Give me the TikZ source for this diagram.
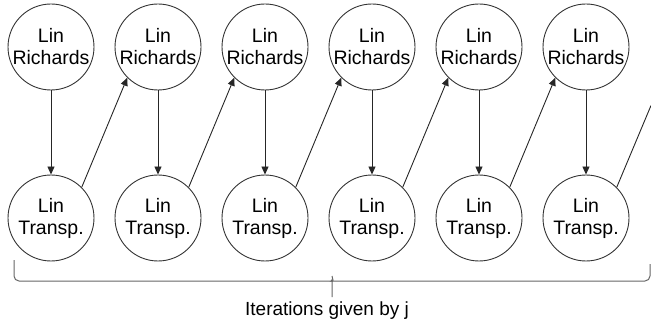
\documentclass[tikz,border=0pt]{standalone}
\usepackage{fontspec}
\setmainfont{Liberation Sans}
\usetikzlibrary{arrows.meta}
\begin{document}
\begin{tikzpicture}[x=1pt,y=-1pt,
  stage/.style={draw=black!80,line width=0.9pt,circle,minimum size=86pt,inner sep=0pt,align=center,
    font=\fontsize{19.5}{22}\selectfont},
  conn/.style={draw=black!85,line width=0.9pt,-{Triangle[length=8pt,width=7pt]}},
  brace/.style={draw=black!60,line width=1pt,rounded corners=5pt}]
\useasboundingbox (0,0) rectangle (651,326);
\foreach \i in {1,...,6}{
  \node[stage] (t\i) at ({51+107*(\i-1)},47) {Lin\\Richards};
  \node[stage] (b\i) at ({51+107*(\i-1)},218) {Lin\\Transp.};
  \draw[conn] (t\i) -- (b\i);
}
\foreach \i/\j in {1/2,2/3,3/4,4/5,5/6}{
  \draw[conn] (b\i.45) -- (t\j.225);
}
\coordinate (edge) at (651,105.5);
\draw[draw=black!85,line width=0.9pt] (b6.45) -- (edge);
% brace
\coordinate (bl) at (14,260);
\coordinate (br) at (650,264);
\coordinate (tip) at (332,297);
\draw[brace] (bl) -- (14,281) -- (327,281) arc[start angle=-90,end angle=0,radius=5pt] -- (tip);
\draw[brace] (br) -- (650,281) -- (337,281) arc[start angle=270,end angle=180,radius=5pt];
\node[font=\fontsize{19}{22}\selectfont,anchor=base] (lab) at (327,315) {Iterations given by j};
\end{tikzpicture}
\end{document}
